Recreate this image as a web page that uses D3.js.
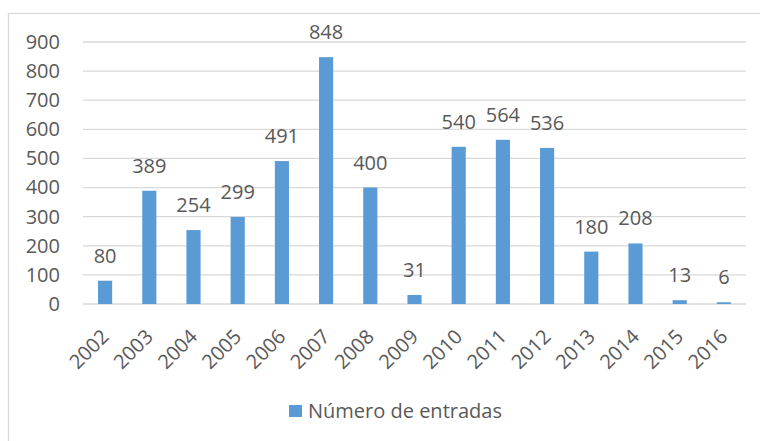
<!DOCTYPE html>
<html>
<head>
<meta charset="utf-8">
<script src="https://cdn.jsdelivr.net/npm/d3@7"></script>
<style>
  body { margin: 0; background: #fff; }
  svg text { font-family: "Open Sans", Lato, sans-serif; fill: #595959; }
</style>
</head>
<body>
<div id="plot"></div>
<script>
const years = ["2002","2003","2004","2005","2006","2007","2008","2009","2010","2011","2012","2013","2014","2015","2016"];
const entradas = [80, 389, 254, 299, 491, 848, 400, 31, 540, 564, 536, 180, 208, 13, 6];
const yTicks = [0, 100, 200, 300, 400, 500, 600, 700, 800, 900];
const seriesName = "Número de entradas";

const W = 760, H = 441;
const margin = {top: 42, right: 14, bottom: 137, left: 83};
const width = W - margin.left - margin.right;
const height = H - margin.top - margin.bottom;

const svg = d3.select("#plot").append("svg")
    .attr("width", W)
    .attr("height", H);

// chart frame
svg.append("rect")
    .attr("x", 8.5).attr("y", 13.5)
    .attr("width", W).attr("height", H)
    .attr("fill", "none")
    .attr("stroke", "#d9d9d9")
    .attr("stroke-width", 1.3);

const g = svg.append("g")
    .attr("transform", "translate(" + margin.left + "," + margin.top + ")");

const x = d3.scaleBand()
    .domain(years)
    .range([0, width])
    .paddingInner(0.68)
    .paddingOuter(0.34);

const y = d3.scaleLinear()
    .domain([0, 900])
    .range([height, 0]);

// gridlines
g.selectAll(".grid")
    .data(yTicks)
    .enter().append("line")
    .attr("x1", 0).attr("x2", width)
    .attr("y1", d => y(d)).attr("y2", d => y(d))
    .attr("stroke", "#d9d9d9")
    .attr("stroke-width", 1.3);

// y axis labels
const yAxis = g.append("g")
    .call(d3.axisLeft(y).tickValues(yTicks).tickSize(0).tickPadding(23));
yAxis.select(".domain").remove();
yAxis.selectAll("text")
    .style("font-size", "20px")
    .attr("fill", "#595959");

// bars
g.selectAll(".bar")
    .data(years)
    .enter().append("rect")
    .attr("x", d => x(d))
    .attr("width", x.bandwidth())
    .attr("y", (d, i) => y(entradas[i]))
    .attr("height", (d, i) => height - y(entradas[i]))
    .attr("fill", "#5b9bd5");

// value labels
g.selectAll(".lbl")
    .data(years)
    .enter().append("text")
    .attr("x", d => x(d) + x.bandwidth() / 2)
    .attr("y", (d, i) => y(entradas[i]) - 18)
    .attr("text-anchor", "middle")
    .style("font-size", "20px")
    .text((d, i) => entradas[i]);

// x axis labels
const xAxis = g.append("g")
    .attr("transform", "translate(0," + height + ")")
    .call(d3.axisBottom(x).tickSize(0).tickPadding(0));
xAxis.select(".domain").remove();
xAxis.selectAll("text")
    .style("font-size", "20px")
    .attr("fill", "#595959")
    .attr("text-anchor", "end")
    .attr("dy", null)
    .attr("y", 0)
    .attr("transform", "translate(5,34) rotate(-45)");

// legend
const legend = svg.append("g")
    .attr("transform", "translate(289,405)");
legend.append("rect")
    .attr("width", 13).attr("height", 12)
    .attr("fill", "#5b9bd5");
legend.append("text")
    .attr("x", 19).attr("y", 6)
    .attr("dy", "0.35em")
    .style("font-size", "20px")
    .text(seriesName);
</script>
</body>
</html>
